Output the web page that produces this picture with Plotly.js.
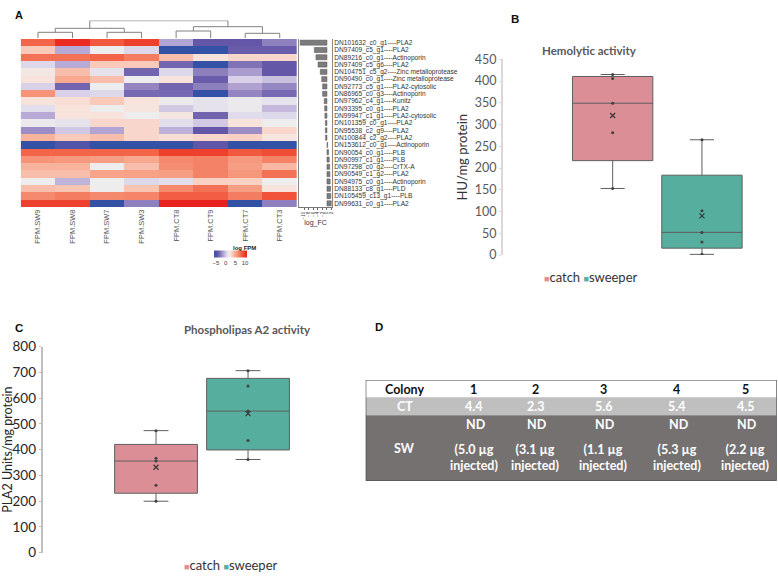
<!DOCTYPE html>
<html><head><meta charset="utf-8">
<script src="https://cdn.plot.ly/plotly-3.0.1.min.js"></script>
<style>html,body{margin:0;padding:0;background:#fff}</style>
</head><body><div id="chart" style="width:778px;height:583px"></div>
<script>
// ---------- DATA ----------
const samples = ['FPM.SW9','FPM.SW8','FPM.SW7','FPM.SW3','FPM.CT8','FPM.CT9','FPM.CT7','FPM.CT3'];
const genes = [
 'DN101632_c0_g1----PLA2','DN97409_c5_g1----PLA2','DN89216_c0_g1----Actinoporin','DN97409_c5_g6----PLA2',
 'DN104751_c5_g2----Zinc metalloprotease','DN90490_c0_g1----Zinc metalloprotease','DN92773_c5_g1----PLA2-cytosolic',
 'DN86965_c0_g3----Actinoporin','DN97962_c4_g1----Kunitz','DN93395_c0_g1----PLA2','DN99947_c1_g1----PLA2-cytosolic',
 'DN101359_c0_g1----PLA2','DN95538_c2_g9----PLA2','DN100844_c2_g2----PLA2','DN153612_c0_g1----Actinoporin',
 'DN90054_c0_g1----PLB','DN90997_c1_g1----PLB','DN97298_c0_g2----CrTX-A','DN90549_c1_g2----PLA2',
 'DN94975_c0_g1----Actinoporin','DN88133_c8_g1----PLD','DN105459_c13_g1----PLB','DN99631_c0_g1----PLA2'];
// log FPM per sample (one value per gene, top to bottom)
const SW9 = [8,3.5,7.5,0.5,2,2.5,0.3,6,2.5,0.8,-1,1.3,-2,4.5,-6,8,6,4.5,4,1.5,4,6.5,9.5];
const SW8 = [10.5,-1,7.5,-1,4,5,-3.5,0.3,2.7,2.5,2.5,1,0,3.5,-4.8,8,5.7,4.5,4,-0.7,3.7,7,9.5];
const SW7 = [8.5,1.5,8,3.5,1,4,1.5,0.5,3.5,1.5,2.5,3,-1.2,4,-6,8,5.5,1.5,5.2,1.5,1.5,6.5,-6];
const SW3 = [9.5,0.5,7,3.5,-3.5,1.5,-2.3,-3.3,2.5,2.3,1.5,3,3,3,-6,8,5,4,5.3,0.5,3.7,6.7,-2.5];
const CT8 = [-1.2,-6,4,-3.5,0.5,2.5,-3.5,-3.3,1.3,0,2.2,0.8,-0.8,2.7,-6,9.5,6.5,6.3,5.5,0.8,6.5,8.3,11];
const CT9 = [-4,-6,2.5,-6,-2.5,-3.8,-2.5,-6,1,1,-3.5,0,-4,3,-4.2,9.5,6.8,6.8,6.8,3.2,7.5,8.3,11];
const CT7 = [-4,-3.8,3,-3,-1.5,0.3,-1.3,-2.3,1.3,1.3,0.7,2.5,-2,3.2,-6,8.5,5.7,5.5,5.8,3.2,5.5,7,-6];
const CT3 = [-2.5,-3.8,3,-4,-4,-0.3,-2.2,-3.3,1,-0.5,0.5,1.5,3,2.3,-6,9,6.8,4.3,7.5,1.5,2.5,8.8,-2.5];
const logFC = [-11.7,-5.5,-4.8,-3.9,-2.9,-2.3,-1.9,-1.9,-1.2,-1.0,-0.9,-0.7,-0.7,-0.6,0.3,0.7,1.0,1.2,1.3,1.4,1.6,1.7,1.9];
// dendrogram linkage (leaf indices 0-7, merged nodes 8..14), [a, b, height]
const linkage = [[0,1,6],[2,3,6],[4,5,7.3],[6,7,5],[8,9,10],[10,11,11.6],[12,13,17.6]];

// Panel B: hemolytic activity (HU/mg protein)
const hemoCatch = [153,281,349,406,415];
const hemoSweeper = [1.5,30,52,102,265];
// Panel C: PLA2 activity (units/mg protein)
const plaCatch = [200,262,356,367,474];
const plaSweeper = [362,436,550,647,707];

// Panel D table
const colonies = ['1','2','3','4','5'];
const ctValues = ['4.4','2.3','5.6','5.4','4.5'];
const swInjected = ['5.0','3.1','1.1','5.3','2.2'];

// ---------- BUILD ----------
const W=778,H=583;
const X=p=>p/W, Y=p=>1-p/H;
const cols=[SW9,SW8,SW7,SW3,CT8,CT9,CT7,CT3];
const z = genes.map((g,i)=>cols.map(c=>c[i]));
const idxG = genes.map((g,i)=>i);
const idxS = samples.map((s,i)=>i);
const lato='Lato, sans-serif', lib='Liberation Sans, Arial, sans-serif';

const cscale=[[0,'#3352a6'],[0.118,'#6457a8'],[0.206,'#8e7fbd'],[0.294,'#b8aad6'],[0.382,'#ddd7ea'],
 [0.441,'#eeeded'],[0.5,'#f8e2dc'],[0.559,'#f9c9b9'],[0.647,'#f7a88e'],[0.735,'#f5896d'],
 [0.824,'#f26548'],[0.912,'#ee412d'],[1,'#e8221e']];

const heat={type:'heatmap',z:z,x:idxS,y:idxG,xaxis:'x',yaxis:'y',colorscale:cscale,zmin:-6,zmax:11,
 hoverinfo:'skip',
 colorbar:{orientation:'h',x:X(230.5),xanchor:'center',y:Y(256.5),yanchor:'middle',len:33,lenmode:'pixels',
  thickness:7,xpad:0,ypad:0,outlinewidth:0,tickvals:[-5,0,5,10],ticks:'',
  tickfont:{family:lib,size:6,color:'#444'}}};

const bars={type:'bar',orientation:'h',x:logFC,y:idxG,xaxis:'x2',yaxis:'y2',width:0.7,
 marker:{color:'#7c7c7c',line:{color:'#555',width:0.5}},hoverinfo:'skip'};

// dendrogram
const pos={},ht={};
for(let i=0;i<8;i++){pos[i]=i;ht[i]=0;}
const dx=[],dy=[];
linkage.forEach((m,k)=>{
 const [a,b,h]=m; const id=8+k;
 dx.push(pos[a],pos[a],pos[b],pos[b],null); dy.push(ht[a],h,h,ht[b],null);
 pos[id]=(pos[a]+pos[b])/2; ht[id]=h;
});
const dendro={type:'scatter',mode:'lines',x:dx,y:dy,xaxis:'x3',yaxis:'y3',line:{color:'#808080',width:1},hoverinfo:'skip'};

const pink='#dc8e97', teal='#56ae9f';
function boxSet(data,xpos,color,xa,ya){
 const mean=data.reduce((s,v)=>s+v,0)/data.length;
 return [
  {type:'box',y:data,x:data.map(()=>xpos),xaxis:xa,yaxis:ya,width:0.9,fillcolor:color,
   line:{color:'#5f5f5f',width:1},whiskerwidth:0.3,boxpoints:false,quartilemethod:'exclusive',hoverinfo:'skip'},
  {type:'scatter',mode:'markers',x:data.map(()=>xpos),y:data,xaxis:xa,yaxis:ya,
   marker:{size:3,color:'#404040'},hoverinfo:'skip'},
  {type:'scatter',mode:'markers',x:[xpos],y:[mean],xaxis:xa,yaxis:ya,
   marker:{symbol:'x-thin',size:5,line:{color:'#333',width:1.1}},hoverinfo:'skip'}
 ];
}

// table drawn on its own axis (x6/y6) in layout units
const colW=[77.7,60.7,62.7,73.3,73.3,63.3];
const rowH=[17.3,18,65.4];
const colL=[0]; colW.forEach((w,i)=>colL.push(colL[i]+w));
const rowT=[0]; rowH.forEach((h,i)=>rowT.push(rowT[i]+h));
const tabW=colL[colL.length-1], tabH=rowT[rowT.length-1];
const cx=i=>colL[i]+colW[i]/2;
const rowFill=['#ffffff','#bfbfbf','#757171'];
const shapes=[];
rowFill.forEach((c,r)=>shapes.push({type:'rect',xref:'x6',yref:'y6',x0:0,x1:tabW,y0:rowT[r],y1:rowT[r+1],
 fillcolor:c,line:{width:0},layer:'below'}));
shapes.push({type:'rect',xref:'x6',yref:'y6',x0:0,x1:tabW,y0:0,y1:tabH,line:{color:'#404040',width:1.2},fillcolor:'rgba(0,0,0,0)'});
const TS=12.5;
const tfont=(c)=>({family:lato,size:TS,color:c});
const ann=[];
const addT=(t,x,y,c)=>ann.push({text:'<b>'+t+'</b>',x:x,y:y,xref:'x6',yref:'y6',showarrow:false,font:tfont(c),xanchor:'center',yanchor:'middle'});
addT('Colony',cx(0),9,'#111'); addT('CT',cx(0),rowT[1]+9.5,'#ffffff'); addT('SW',cx(0),rowT[2]+33,'#ffffff');
colonies.forEach((c,i)=>{
 addT(c,cx(i+1),9,'#111');
 addT(ctValues[i],cx(i+1),rowT[1]+9.5,'#ffffff');
 addT('ND',cx(i+1)+2,rowT[2]+9.5,'#ffffff');
 ann.push({text:'<b>('+swInjected[i]+' µg<br>injected)</b>',x:cx(i+1),y:rowT[2]+42.5,xref:'x6',yref:'y6',showarrow:false,
  font:{family:lato,size:TS,color:'#ffffff'},xanchor:'center',yanchor:'middle'});
});
const tableAnchor={type:'scatter',mode:'markers',x:[0,tabW],y:[0,tabH],xaxis:'x6',yaxis:'y6',marker:{opacity:0},hoverinfo:'skip'};

const data=[heat,bars,dendro,
 ...boxSet(hemoCatch,0,pink,'x4','y4'),...boxSet(hemoSweeper,1,teal,'x4','y4'),
 ...boxSet(plaCatch,0,pink,'x5','y5'),...boxSet(plaSweeper,1,teal,'x5','y5'),
 tableAnchor];

const hid={visible:false,fixedrange:true};
const legendText='<span style="color:'+pink+';font-size:9px">■</span>catch <span style="color:'+teal+';font-size:9px">■</span>sweeper';
const layout={width:W,height:H,margin:{l:0,r:0,t:0,b:0},paper_bgcolor:'#fff',plot_bgcolor:'rgba(0,0,0,0)',
 showlegend:false,
 xaxis:{domain:[X(20.7),X(297)],range:[-0.5,7.5],anchor:'y',tickvals:idxS,ticktext:samples,tickangle:-90,
  ticks:'',showgrid:false,zeroline:false,showline:false,tickfont:{family:lib,size:7.5,color:'#555'}},
 yaxis:{domain:[Y(207),Y(39)],range:[22.5,-0.5],anchor:'x',showticklabels:false,ticks:'',showgrid:false,zeroline:false},
 xaxis2:{domain:[X(299),X(332)],range:[-12.2,2.2],anchor:'y2',tickvals:[-10,-8,-6,-4,-2,0,2],tickangle:-90,
  ticks:'outside',ticklen:2,tickcolor:'#666',showline:true,linecolor:'#777',linewidth:1,showgrid:false,zeroline:false,
  tickfont:{family:lib,size:4.5,color:'#444'},title:{text:'log_FC',font:{family:lib,size:7,color:'#333'},standoff:1}},
 yaxis2:{domain:[Y(207),Y(39)],range:[22.5,-0.5],anchor:'x2',side:'right',tickvals:idxG,ticktext:genes,ticks:'',
  showline:true,mirror:true,linecolor:'#888',linewidth:1,showgrid:false,zeroline:false,
  tickfont:{family:lib,size:6.6,color:'#333'}},
 xaxis3:Object.assign({domain:[X(20.7),X(297)],range:[-0.5,7.5],anchor:'y3'},hid),
 yaxis3:Object.assign({domain:[Y(38.3),Y(20.5)],range:[0,17.8],anchor:'x3'},hid),
 xaxis4:Object.assign({domain:[X(503),X(760)],range:[-1.228,1.65],anchor:'y4'},hid),
 yaxis4:{domain:[Y(255),Y(59.3)],range:[0,450],dtick:50,anchor:'x4',showline:true,linecolor:'#d9d9d9',linewidth:2,
  ticks:'outside',ticklen:2,tickcolor:'#d9d9d9',showgrid:false,zeroline:false,
  tickfont:{family:lato,size:12.5,color:'#595959'},
  title:{text:'HU/mg protein',font:{family:lato,size:13,color:'#333'},standoff:4}},
 xaxis5:Object.assign({domain:[X(42.7),X(300)],range:[-1.232,1.565],anchor:'y5'},hid),
 yaxis5:{domain:[Y(552.7),Y(346.7)],range:[0,800],dtick:100,anchor:'x5',showline:true,linecolor:'#bfbfbf',linewidth:2,
  ticks:'outside',ticklen:2,tickcolor:'#bfbfbf',showgrid:false,zeroline:false,
  tickfont:{family:lato,size:13.5,color:'#262626'},
  title:{text:'PLA2 Units/mg protein',font:{family:lato,size:12.5,color:'#262626'},standoff:3}},
 xaxis6:Object.assign({domain:[X(365.7),X(365.7+tabW)],range:[0,tabW],anchor:'y6'},hid),
 yaxis6:Object.assign({domain:[Y(380+tabH),Y(380)],range:[tabH,0],anchor:'x6'},hid),
 shapes:shapes,
 annotations:[
  {text:'<b>A</b>',x:X(13.3),y:Y(6.5),xref:'paper',yref:'paper',showarrow:false,font:{family:lib,size:11,color:'#111'}},
  {text:'<b>B</b>',x:X(515),y:Y(11),xref:'paper',yref:'paper',showarrow:false,font:{family:lib,size:11.5,color:'#111'}},
  {text:'<b>C</b>',x:X(12.8),y:Y(328),xref:'paper',yref:'paper',showarrow:false,font:{family:lib,size:11.5,color:'#111'}},
  {text:'<b>D</b>',x:X(379),y:Y(327),xref:'paper',yref:'paper',showarrow:false,font:{family:lib,size:11.5,color:'#111'}},
  {text:'<b>log FPM</b>',x:X(230.5),y:Y(248),xref:'paper',yref:'paper',showarrow:false,font:{family:lib,size:6,color:'#222'}},
  {text:'<b>Hemolytic activity</b>',x:X(638.8),y:Y(42),xref:'paper',yref:'paper',showarrow:false,font:{family:lato,size:11.5,color:'#595959'}},
  {text:'<b>Phospholipas A2 activity</b>',x:X(182),y:Y(329.5),xref:'paper',yref:'paper',showarrow:false,font:{family:lato,size:11.5,color:'#595959'}},
  {text:legendText,x:X(639.5),y:Y(276.7),xref:'paper',yref:'paper',showarrow:false,font:{family:lato,size:13,color:'#333'}},
  {text:legendText,x:X(181.7),y:Y(575.3),xref:'paper',yref:'paper',showarrow:false,font:{family:lato,size:13,color:'#333'}}
 ].concat(ann)};

Plotly.newPlot('chart',data,layout,{staticPlot:true,displayModeBar:false});
</script></body></html>
